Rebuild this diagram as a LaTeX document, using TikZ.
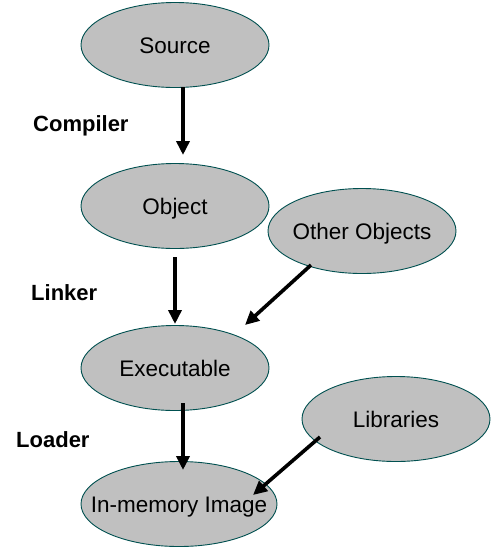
\documentclass[tikz,border=0pt]{standalone}
\usepackage{fontspec}
\setmainfont{Liberation Sans}
\usetikzlibrary{arrows.meta,shapes.geometric}
\definecolor{edgeteal}{RGB}{0,80,80}
\definecolor{fillgray}{RGB}{192,192,192}
\newcommand{\zw}[1]{\raisebox{-8pt}[0pt][0pt]{\makebox[0pt]{#1}}}
\begin{document}
\begin{tikzpicture}[x=1pt,y=-1pt,
  stage/.style={ellipse,draw=edgeteal,line width=0.9pt,fill=fillgray,inner sep=0pt,
    minimum width=188pt,minimum height=85pt,font=\fontsize{22.5}{26}\selectfont},
  tool/.style={anchor=base west,inner sep=0pt,font=\fontsize{22}{26}\selectfont\bfseries},
  arr/.style={line width=3.6pt,-{Triangle[length=14pt,width=13pt]}}]
\useasboundingbox (0,0) rectangle (501,558);
\node[stage] (src) at (175,45) {\zw{Source}};
\node[stage] (obj) at (175,206) {\zw{Object}};
\node[stage] (oth) at (362,231) {\zw{Other Objects}};
\node[stage] (exe) at (175,368) {\zw{Executable}};
\node[stage] (lib) at (396,419) {\zw{Libraries}};
\node[stage,minimum width=196pt] (img) at (179,504) {\zw{In-memory Image}};
\node[tool] (comp) at (33,131) {Compiler};
\node[tool] (link) at (31,300) {Linker};
\node[tool] (load) at (16,447) {Loader};
\draw[arr] ([shift={(8pt,-42pt)}]src.center) -- ([shift={(8pt,51pt)}]obj.center);
\draw[arr] ([shift={(0pt,-51pt)}]obj.center) -- ([shift={(0pt,44pt)}]exe.center);
\draw[arr] ([shift={(-51pt,-34pt)}]oth.center) -- ([shift={(70pt,43pt)}]exe.center);
\draw[arr] ([shift={(8pt,-35pt)}]exe.center) -- ([shift={(4pt,34pt)}]img.center);
\draw[arr] ([shift={(-76pt,-18pt)}]lib.center) -- ([shift={(74pt,9pt)}]img.center);
\end{tikzpicture}
\end{document}
